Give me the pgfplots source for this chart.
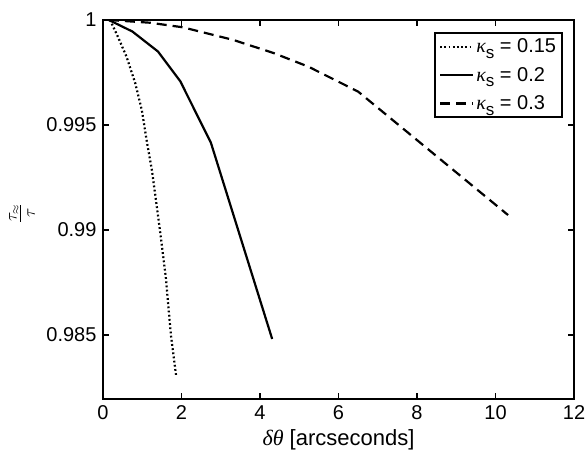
\documentclass[border=0pt]{standalone}
\usepackage{fontspec}
\setmainfont{Liberation Sans}
\newfontfamily\serifit{Liberation Serif}[ItalicFont=* Italic]
\usepackage{pgfplots}
\pgfplotsset{compat=1.18}
\usetikzlibrary{calc}
\newcommand{\ks}{{\serifit\itshape κ}\raisebox{-0.5ex}{\fontsize{17bp}{18bp}\selectfont s}}
\begin{document}
\begin{tikzpicture}
\begin{axis}[
  scale only axis,
  width=471bp, height=379bp,
  xmin=0, xmax=12, ymin=0.98195, ymax=1,
  xtick={0,2,4,6,8,10,12},
  ytick={0.985,0.99,0.995,1},
  yticklabels={0.985,0.99,0.995,1},
  scaled y ticks=false,
  tick align=inside,
  major tick length=6bp,
  tick style={line width=1.4bp, black},
  axis line style={line width=1.8bp},
  /pgf/number format/assume math mode=true,
  tick label style={font=\fontsize{20bp}{24bp}\selectfont},
  xticklabel style={yshift=-3bp},
  yticklabel style={xshift=-3bp},
  xlabel={{\serifit\itshape δθ} [arcseconds]},
  xlabel style={font=\fontsize{22bp}{26bp}\selectfont, at={(axis description cs:0.5,-0.1214)}, anchor=base},
  ylabel={$\frac{\tau_{\approx}}{\tau}$},
  ylabel style={font=\fontsize{26bp}{30bp}\selectfont, at={(axis description cs:-0.172,0.49)}, anchor=center},
  legend style={at={(axis description cs:0.9766,0.9683)}, anchor=north east,
    font=\fontsize{20bp}{24bp}\selectfont, line width=1.8bp, draw=black,
    inner xsep=4bp, inner ysep=4bp, row sep=9bp,
    nodes={inner sep=2bp, line width=2bp}},
  legend cell align=left,
  legend image code/.code={\draw[#1] (0bp,0bp) -- (33bp,0bp);},
]
\addplot[black, line width=2.2bp, dash pattern=on 1.8bp off 2.4bp] coordinates {
(0.18,1.0) (0.38,0.9992) (0.60,0.99825) (0.82,0.9970) (0.99,0.9957)
(1.11,0.99429) (1.25,0.9928) (1.45,0.9900) (1.60,0.98775) (1.73,0.9850) (1.86,0.9831)};
\addlegendentry{\ks{} = 0.15}
\addplot[black, line width=2.2bp] coordinates {
(0.15,1.0) (0.75,0.99945) (1.40,0.9985) (1.97,0.99708) (2.75,0.99415) (4.31,0.98481)};
\addlegendentry{\ks{} = 0.2}
\addplot[black, line width=2.2bp, dash pattern=on 10bp off 6bp] coordinates {
(0.15,1.0) (1.2,0.99987) (2.04,0.99965) (3.32,0.99905) (4.34,0.99843) (5.23,0.99778) (6.5,0.99659) (10.32,0.99071)};
\addlegendentry{\ks{} = 0.3}
\end{axis}
\pgfresetboundingbox
\path ($(current axis.south west)+(-103bp,-53bp)$) rectangle ($(current axis.north east)+(13bp,20bp)$);
\end{tikzpicture}
\end{document}
